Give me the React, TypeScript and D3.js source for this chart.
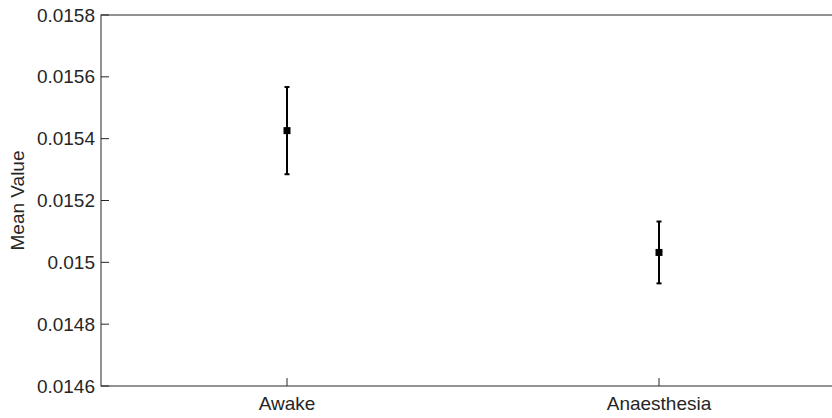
import React from 'react';
import * as d3 from 'd3';

// conditions and their means / error half-widths
const categories = ['Awake', 'Anaesthesia'];
const means = [0.015426, 0.015032];
const errors = [0.000141, 0.0001];
const yTicks = [0.0146, 0.0148, 0.015, 0.0152, 0.0154, 0.0156, 0.0158];
const yTickLabels = ['0.0146', '0.0148', '0.015', '0.0152', '0.0154', '0.0156', '0.0158'];

export default function App() {
  const width = 832;
  const height = 418;
  const margin = { top: 15, left: 101, bottom: 32 };
  const plotRight = 845; // right border falls outside the picture

  const x = d3.scaleLinear().domain([0.5, 2.5]).range([margin.left, plotRight]);
  const y = d3.scaleLinear().domain([0.0146, 0.0158]).range([height - margin.bottom, margin.top]);

  const axisColor = '#262626';
  const font = 'Liberation Sans, Arial, sans-serif';
  const fs = 19;
  const tickLen = 8;

  return (
    <svg width={width} height={height} style={{ position: 'absolute', left: 0, top: 0, background: 'white' }}>
      {/* box */}
      <rect x={x(0.5)} y={y(0.0158)} width={x(2.5) - x(0.5)} height={y(0.0146) - y(0.0158)}
        fill="none" stroke={axisColor} strokeWidth={1} />

      {/* y ticks */}
      {yTicks.map((t, i) => (
        <g key={i}>
          <line x1={x(0.5)} x2={x(0.5) + tickLen} y1={y(t)} y2={y(t)} stroke={axisColor} />
          <text x={x(0.5) - 6} y={y(t)} dy="0.35em" textAnchor="end" fontFamily={font} fontSize={fs} fill={axisColor}>
            {yTickLabels[i]}
          </text>
        </g>
      ))}

      {/* x ticks */}
      {categories.map((c, i) => (
        <g key={c}>
          <line x1={x(i + 1)} x2={x(i + 1)} y1={y(0.0146)} y2={y(0.0146) - tickLen} stroke={axisColor} />
          <text x={x(i + 1)} y={y(0.0146) + 24} textAnchor="middle" fontFamily={font} fontSize={fs} fill={axisColor}>
            {c}
          </text>
        </g>
      ))}

      <text transform={`translate(24,${(y(0.0146) + y(0.0158)) / 2}) rotate(-90)`} textAnchor="middle"
        fontFamily={font} fontSize={fs} fill={axisColor}>Mean Value</text>

      {/* error bars */}
      {means.map((m, i) => {
        const cx = x(i + 1);
        const top = y(m + errors[i]);
        const bot = y(m - errors[i]);
        return (
          <g key={i}>
            <line x1={cx} x2={cx} y1={top} y2={bot} stroke="black" strokeWidth={2} />
            <line x1={cx - 2.5} x2={cx + 2.5} y1={top} y2={top} stroke="black" strokeWidth={2} />
            <line x1={cx - 2.5} x2={cx + 2.5} y1={bot} y2={bot} stroke="black" strokeWidth={2} />
            <rect x={cx - 3.5} y={y(m) - 3.5} width={7} height={7} fill="black" />
          </g>
        );
      })}
    </svg>
  );
}
